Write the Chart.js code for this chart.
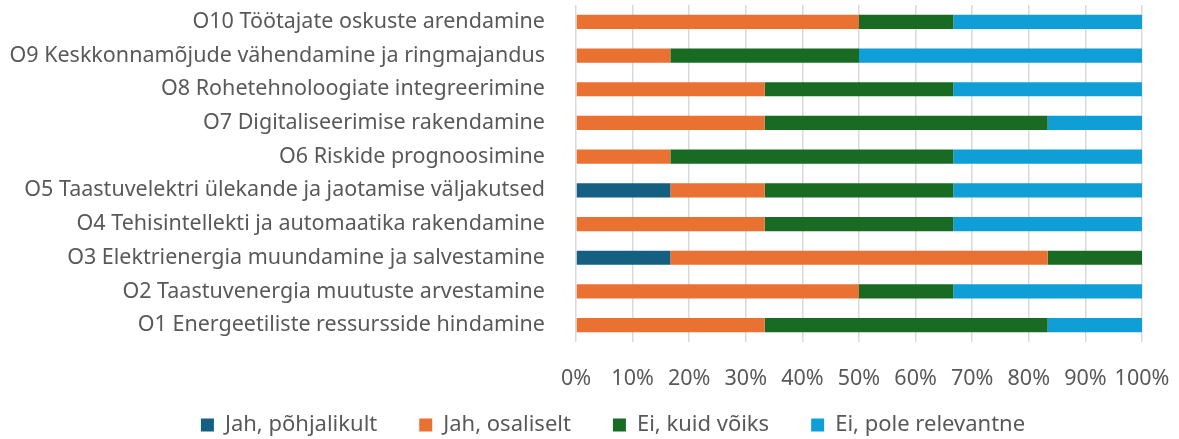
<!DOCTYPE html>
<html>
<head>
<meta charset="utf-8">
<script src="https://cdn.jsdelivr.net/npm/chart.js@4/dist/chart.umd.min.js"></script>
<style>
  html, body { margin: 0; padding: 0; background: #fff; }
  #wrap { width: 1179px; height: 439px; }
</style>
</head>
<body>
<div id="wrap"><canvas id="chart" width="1179" height="439"></canvas></div>
<script>
/* ── Data (share of 6 answers, %) ── */
const CATEGORIES = [
  'O10 Töötajate oskuste arendamine',
  'O9 Keskkonnamõjude vähendamine ja ringmajandus',
  'O8 Rohetehnoloogiate integreerimine',
  'O7 Digitaliseerimise rakendamine',
  'O6 Riskide prognoosimine',
  'O5 Taastuvelektri ülekande ja jaotamise väljakutsed',
  'O4 Tehisintellekti ja automaatika rakendamine',
  'O3 Elektrienergia muundamine ja salvestamine',
  'O2 Taastuvenergia muutuste arvestamine',
  'O1 Energeetiliste ressursside hindamine',
];

const SERIES_NAMES = ['Jah, põhjalikult', 'Jah, osaliselt', 'Ei, kuid võiks', 'Ei, pole relevantne'];
const SERIES_COLORS = ['#156082', '#E97132', '#196B24', '#0F9ED5'];

const JAH_POHJALIKULT = [0, 0, 0, 0, 0, 16.67, 0, 16.67, 0, 0];
const JAH_OSALISELT   = [50, 16.67, 33.33, 33.33, 16.67, 16.67, 33.33, 66.67, 50, 33.33];
const EI_KUID_VOIKS   = [16.67, 33.33, 33.33, 50, 50, 33.33, 33.33, 16.67, 16.67, 50];
const EI_POLE_REL     = [33.33, 50, 33.33, 16.67, 33.33, 33.33, 33.33, 0, 33.33, 16.67];

const X_TICKS = [0, 10, 20, 30, 40, 50, 60, 70, 80, 90, 100];

const FONT = "'Noto Sans', sans-serif";
const SIZE = 21.5;
const TEXT = '#595959';

/* nudge the legend to where the original sits (right of centre, a bit higher) */
const legendNudge = {
  id: 'legendNudge',
  afterUpdate(chart) {
    const lg = chart.legend;
    if (!lg) return;
    lg.left += 42; lg.right += 42;
    lg.top -= 20; lg.bottom -= 20;
  },
};

/* ── Chart ── */
const seriesValues = [JAH_POHJALIKULT, JAH_OSALISELT, EI_KUID_VOIKS, EI_POLE_REL];

new Chart(document.getElementById('chart'), {
  type: 'bar',
  data: {
    labels: CATEGORIES,
    datasets: SERIES_NAMES.map((name, i) => ({
      label: name,
      data: seriesValues[i],
      backgroundColor: SERIES_COLORS[i],
      borderWidth: 0,
      categoryPercentage: 1,
      barPercentage: 0.42,
    })),
  },
  plugins: [legendNudge],
  options: {
    indexAxis: 'y',
    responsive: false,
    animation: false,
    layout: { padding: { top: 5, right: 37, left: 0, bottom: -27 } },
    plugins: {
      legend: {
        position: 'bottom',
        labels: {
          color: TEXT,
          font: { family: FONT, size: 22 },
          boxWidth: 13,
          boxHeight: 13,
          padding: 42,
        },
      },
      tooltip: { enabled: false },
    },
    scales: {
      x: {
        stacked: true,
        min: 0,
        max: 100,
        afterBuildTicks: s => { s.ticks = X_TICKS.map(v => ({ value: v })); },
        grid: { color: '#d9d9d9', lineWidth: 1.5, drawTicks: false },
        border: { display: false },
        ticks: {
          color: TEXT,
          font: { family: FONT, size: SIZE },
          padding: 24,
          maxRotation: 0,
          autoSkip: false,
          callback: v => v + '%',
        },
        afterFit: s => { s.height = 50; s.paddingLeft = 0; s.paddingRight = 0; },
      },
      y: {
        stacked: true,
        grid: { display: false },
        border: { display: false },
        ticks: {
          color: TEXT,
          font: { family: FONT, size: SIZE },
          padding: 23,
        },
        afterFit: s => { s.width = 576; s.paddingTop = 0; s.paddingBottom = 0; },
      },
    },
  },
});
</script>
</body>
</html>
